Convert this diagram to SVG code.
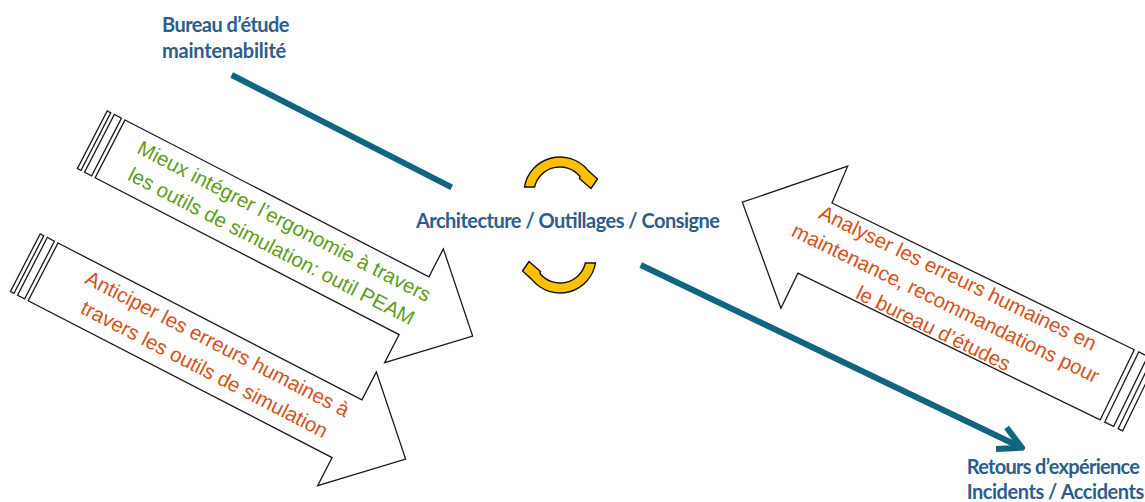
<svg xmlns="http://www.w3.org/2000/svg" width="1145" height="502" viewBox="0 0 1145 502">
<defs>
<style>
.outline{fill:#ffffff;stroke:#1a1a1a;stroke-width:1.3;stroke-linejoin:miter}
.atext{font-family:"Liberation Sans",Arial,sans-serif;font-size:20.5px;text-anchor:middle}
.green{fill:#5e9c1c}
.orange{fill:#d4521a}
.label{font-family:Lato,"Open Sans",sans-serif;font-weight:700;font-size:20px;fill:#2e5d8c}
.teal{stroke:#11657f;stroke-width:6;fill:none}
.circ{fill:#ffc000;stroke:#111111;stroke-width:1.4;stroke-linejoin:miter}
</style>
<path id="circArrow" d="M524.5,187 A36,36 0 0 1 587.6,169.9 L597.5,179 L591,188.5 L579.5,178.5 L580,176.5 A26,26 0 0 0 534.6,187 Z"/>
</defs>

<g id="connectors">
<line class="teal" x1="231.7" y1="75" x2="451.7" y2="187.3"/>
<line class="teal" x1="640.7" y1="265" x2="1021" y2="447.3"/>
<polyline class="teal" stroke-linejoin="round" points="1006.6,427.5 1022,447.8 996,449"/>
</g>

<g id="label-bureau">
<text class="label" x="162" y="32" textLength="127.5" lengthAdjust="spacing">Bureau d’étude</text>
<text class="label" x="162" y="57.5" textLength="124.3" lengthAdjust="spacing">maintenabilité</text>
</g>

<g id="label-architecture">
<text class="label" x="416" y="228.3" textLength="304" lengthAdjust="spacing">Architecture / Outillages / Consigne</text>
</g>

<g id="label-retours">
<text class="label" x="966.7" y="474" textLength="173.3" lengthAdjust="spacing">Retours d’expérience</text>
<text class="label" x="966.7" y="499" textLength="177.5" lengthAdjust="spacing">Incidents / Accidents</text>
</g>

<g id="cycle-top">
<use href="#circArrow" class="circ"/>
</g>
<g id="cycle-bottom">
<use href="#circArrow" class="circ" transform="rotate(180 560 225)"/>
</g>

<g id="arrow-ergonomie" transform="translate(125,120) rotate(27.3)">
<rect class="outline" x="-20" y="0" width="4" height="65"/>
<rect class="outline" x="-12" y="0" width="8" height="65"/>
<path class="outline" d="M0,0 H342 V-31.5 L408,32.5 L342,96.5 V65 H0 Z"/>
<text class="atext green" x="188" y="24">Mieux intégrer l’ergonomie à travers</text>
<text class="atext green" x="188" y="52">les outils de simulation: outil PEAM</text>
</g>

<g id="arrow-anticiper" transform="translate(58,243) rotate(27.3)">
<rect class="outline" x="-20" y="0" width="4" height="65"/>
<rect class="outline" x="-12" y="0" width="8" height="65"/>
<path class="outline" d="M0,0 H342 V-31.5 L408,32.5 L342,96.5 V65 H0 Z"/>
<text class="atext orange" x="188" y="23.5">Anticiper les erreurs humaines à</text>
<text class="atext orange" x="188" y="52">travers les outils de simulation</text>
</g>

<g id="arrow-analyser" transform="translate(832,203) rotate(25.9)">
<path class="outline" d="M0,0 H336 V78 H0 V117 L-81,38.5 L-2,-40 Z"/>
<rect class="outline" x="341" y="0" width="10" height="78"/>
<rect class="outline" x="356" y="0" width="5" height="78"/>
<text class="atext orange" x="146" y="19.5">Analyser les erreurs humaines en</text>
<text class="atext orange" x="146" y="47.5">maintenance, recommandations pour</text>
<text class="atext orange" x="146" y="75.5">le bureau d’études</text>
</g>
</svg>
